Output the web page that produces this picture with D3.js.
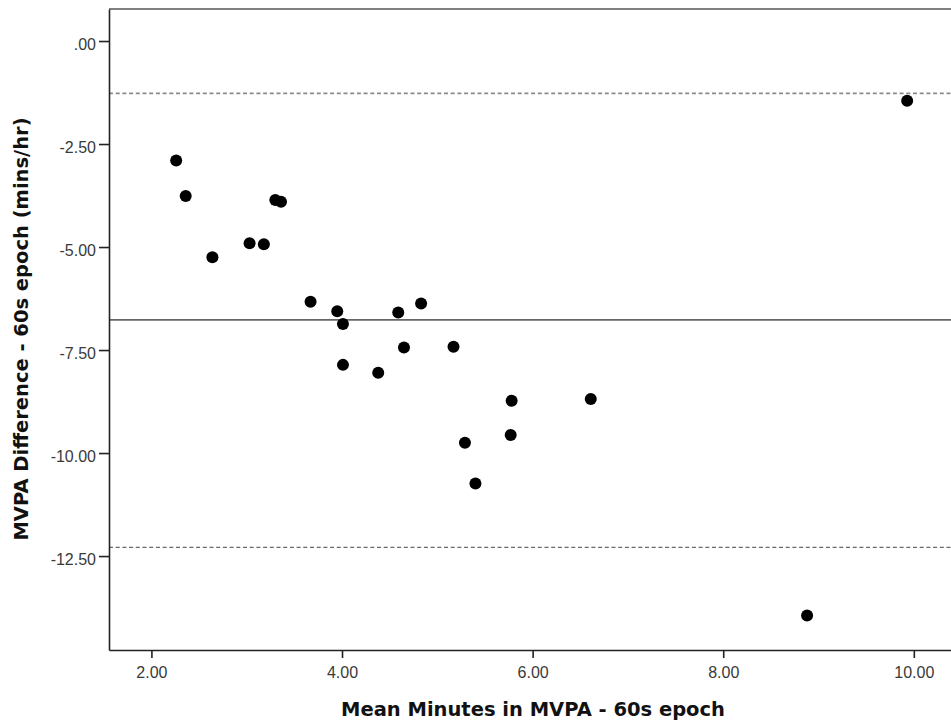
<!DOCTYPE html>
<html>
<head>
<meta charset="utf-8">
<script src="https://cdn.jsdelivr.net/npm/d3@7"></script>
<style>
  html, body { margin: 0; padding: 0; background: #fff; }
  svg { display: block; }
</style>
</head>
<body>
<svg id="chart" width="951" height="725"></svg>
<script>
// ---- Data ----
const meanMinutes = [2.26, 2.36, 2.64, 3.03, 3.18, 3.30, 3.36, 3.67, 3.95, 4.01, 4.01, 4.38, 4.59, 4.65, 4.83, 5.17, 5.29, 5.40, 5.78, 5.77, 6.61, 8.88, 9.93];
const differences = [-2.90, -3.76, -5.25, -4.91, -4.93, -3.86, -3.90, -6.33, -6.56, -6.87, -7.86, -8.05, -6.59, -7.44, -6.37, -7.42, -9.75, -10.74, -8.73, -9.56, -8.69, -13.94, -1.45];

const meanDifference = -6.77;
const upperLimit = -1.27;
const lowerLimit = -12.29;

const xTickValues = [2, 4, 6, 8, 10];
const xTickLabels = ["2.00", "4.00", "6.00", "8.00", "10.00"];
const yTickValues = [0, -2.5, -5, -7.5, -10, -12.5];
const yTickLabels = [".00", "-2.50", "-5.00", "-7.50", "-10.00", "-12.50"];

const xDomain = [1.555, 10.39];
const yDomain = [-14.78, 0.777];

const xTitle = "Mean Minutes in MVPA - 60s epoch";
const yTitle = "MVPA Difference - 60s epoch (mins/hr)";

// ---- Layout ----
const plotLeft = 109, plotRight = 951, plotTop = 9, plotBottom = 650;
const svg = d3.select("#chart");

const x = d3.scaleLinear().domain(xDomain).range([plotLeft, plotRight]);
const y = d3.scaleLinear().domain(yDomain).range([plotBottom, plotTop]);

// top border
svg.append("line")
  .attr("x1", plotLeft).attr("x2", plotRight)
  .attr("y1", plotTop).attr("y2", plotTop)
  .attr("stroke", "#808080").attr("stroke-width", 2);

// reference lines
function hline(v, dash, color, w) {
  svg.append("line")
    .attr("x1", plotLeft).attr("x2", plotRight)
    .attr("y1", y(v)).attr("y2", y(v))
    .attr("stroke", color).attr("stroke-width", w)
    .attr("stroke-dasharray", dash);
}
hline(upperLimit, "4,2.7", "#8a8a8a", 1.6);
hline(lowerLimit, "4,2.7", "#6a6a6a", 1.3);
hline(meanDifference, null, "#666", 1.8);

// axes
const xAxis = d3.axisBottom(x)
  .tickValues(xTickValues)
  .tickFormat((d, i) => xTickLabels[i])
  .tickSizeInner(8).tickSizeOuter(0).tickPadding(5);
const yAxis = d3.axisLeft(y)
  .tickValues(yTickValues)
  .tickFormat((d, i) => yTickLabels[i])
  .tickSizeInner(10).tickSizeOuter(0).tickPadding(3);

const gx = svg.append("g").attr("transform", `translate(0,${plotBottom})`).call(xAxis);
const gy = svg.append("g").attr("transform", `translate(${plotLeft},0)`).call(yAxis);

[gx, gy].forEach(g => {
  g.attr("font-family", "Liberation Sans, Arial, sans-serif").attr("font-size", 16);
  g.select(".domain").attr("stroke", "#222").attr("stroke-width", 1.6);
  g.selectAll(".tick line").attr("stroke", "#222").attr("stroke-width", 1.6);
  g.selectAll(".tick text").attr("fill", "#3a3a3a");
});
gx.selectAll(".tick text").attr("dy", null).attr("y", 27.5);
gy.selectAll(".tick text").attr("dy", "0.5em");

// points
svg.append("g").selectAll("circle")
  .data(meanMinutes.map((m, i) => [m, differences[i]]))
  .join("circle")
  .attr("cx", d => x(d[0]))
  .attr("cy", d => y(d[1]))
  .attr("r", 6)
  .attr("fill", "#000");

// titles
svg.append("text")
  .attr("x", 533).attr("y", 716)
  .attr("text-anchor", "middle")
  .attr("font-family", "DejaVu Sans, sans-serif")
  .attr("font-weight", "bold")
  .attr("font-size", 19.5)
  .attr("fill", "#111")
  .text(xTitle);

svg.append("text")
  .attr("transform", "translate(28,329) rotate(-90)")
  .attr("text-anchor", "middle")
  .attr("font-family", "DejaVu Sans, sans-serif")
  .attr("font-weight", "bold")
  .attr("font-size", 19.5)
  .attr("fill", "#111")
  .text(yTitle);
</script>
</body>
</html>
